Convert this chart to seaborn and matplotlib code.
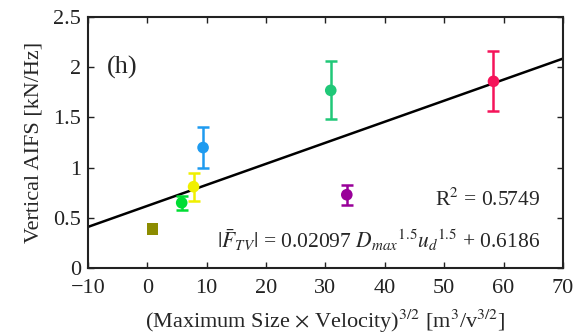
import matplotlib
matplotlib.use("Agg")
import matplotlib.pyplot as plt
import seaborn as sns
import numpy as np
import pandas as pd

# data
x_vals = [0.9, 5.8, 7.8, 9.4, 30.9, 33.6, 58.3]
y_vals = [0.39, 0.65, 0.81, 1.20, 1.77, 0.73, 1.86]
y_err = [0.0, 0.07, 0.14, 0.20, 0.29, 0.10, 0.30]
markers = ["s", "o", "o", "o", "o", "o", "o"]
colors = ["#8c8c00", "#00dd33", "#f0f000", "#1e9bf0", "#20c878", "#990099", "#f5145a"]
slope = 0.02097
intercept = 0.6186
x_fit = [-10, 70]
x_ticks = [-10, 0, 10, 20, 30, 40, 50, 60, 70]
y_ticks = [0, 0.5, 1, 1.5, 2, 2.5]
y_tick_labels = ["0", "0.5", "1", "1.5", "2", "2.5"]

sns.set_style("ticks")
plt.rcParams["font.family"] = ["Liberation Serif", "DejaVu Serif"]
plt.rcParams["mathtext.fontset"] = "stix"

fig = plt.figure(figsize=(5.78, 3.35), dpi=100)
ax = fig.add_axes([0.152, 0.2, 0.822, 0.749])

df = pd.DataFrame({"x": x_vals, "y": y_vals, "err": y_err, "m": markers, "c": colors})
fit = pd.DataFrame({"x": x_fit, "y": [slope * v + intercept for v in x_fit]})

sns.lineplot(data=fit, x="x", y="y", ax=ax, color="black", linewidth=1.8, zorder=2)

for _, r in df.iterrows():
    if r["err"] > 0:
        ax.errorbar(r["x"], r["y"], yerr=r["err"], fmt="none", ecolor=r["c"],
                    elinewidth=1.8, capsize=4, capthick=1.8, zorder=3)
for m in ["s", "o"]:
    sub = df[df["m"] == m]
    sns.scatterplot(data=sub, x="x", y="y", ax=ax, hue="c", palette=dict(zip(sub["c"], sub["c"])),
                    marker=m, s=70, edgecolor="none", legend=False, zorder=4)

ax.set_xlim(-10, 70)
ax.set_ylim(0, 2.5)
ax.set_xticks(x_ticks)
ax.set_xticklabels([("\u2212" + str(-t)) if t < 0 else str(t) for t in x_ticks])
ax.set_yticks(y_ticks)
ax.set_yticklabels(y_tick_labels)
ax.tick_params(direction="in", top=True, right=True, labelsize=16, length=4, width=1, colors="#222222")
ax.tick_params(axis="x", pad=8)
ax.tick_params(axis="y", pad=5)
for s in ax.spines.values():
    s.set_linewidth(1.5)
    s.set_color("#222222")

ax.set_xlabel(r"(Maximum Size $\times$ Velocity)$^{3/2}$ [m$^{3}$/v$^{3/2}$]", fontsize=16, labelpad=7)
ax.set_ylabel("Vertical AIFS [kN/Hz]", fontsize=16, labelpad=7)

ax.text(-6.8, 2.0, "(h)", fontsize=19, va="center", ha="left")
ax.text(66.2, 0.68, r"R$^2$ = 0.5749", fontsize=15.5, ha="right", va="center")
ax.text(66.2, 0.28, r"$|\bar{F}_{TV}|$ = 0.02097 $D_{max}{}^{1.5}u_d{}^{1.5}$ + 0.6186",
        fontsize=15.5, ha="right", va="center")

fig.savefig("out.png", dpi=100)
